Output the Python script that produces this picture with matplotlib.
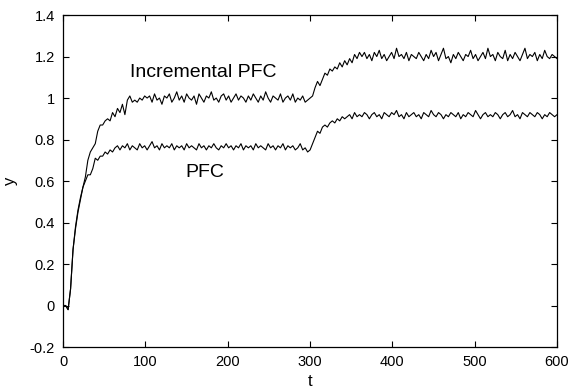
import numpy as np
import matplotlib.pyplot as plt

plt.rcParams['font.family'] = ['Liberation Sans', 'DejaVu Sans']

# ---- data: sampled every 3 time units, t = 0 ... 600 ----
incr_start = [0.00, 0.00, -0.02, 0.08, 0.27, 0.37, 0.45, 0.51, 0.57, 0.62,
              0.70, 0.74, 0.76, 0.78, 0.84, 0.87, 0.87, 0.89, 0.90, 0.89,
              0.93, 0.91, 0.95, 0.93, 0.97, 0.92, 0.99, 1.01, 0.98, 0.99,
              0.98, 1.00, 0.99, 1.01, 1.00]
incr_plateau1 = [1.01, 0.98, 1.02, 0.99, 1.00, 0.97, 1.01, 1.00, 1.02, 0.98,
                 1.00, 1.03, 0.99, 1.01, 0.98, 1.02, 1.00, 0.99, 1.01, 0.97,
                 1.02, 1.00, 0.98, 1.01, 1.00, 1.03, 0.99, 1.00, 0.98, 1.01,
                 1.02, 0.99, 1.01, 0.98, 1.00, 1.02, 0.99, 1.01, 1.00, 0.98,
                 1.01, 0.99, 1.02, 1.00, 0.98, 1.01, 0.99, 1.03, 1.00, 0.98,
                 1.01, 1.00, 0.99, 1.02, 0.98, 1.00, 1.01, 0.99, 1.02, 0.98,
                 1.00, 0.99, 1.01, 0.98, 0.99]
incr_step = [1.00, 1.01, 1.05, 1.08, 1.06, 1.09, 1.12, 1.11, 1.14, 1.13,
             1.15, 1.14, 1.17, 1.15, 1.18, 1.16, 1.19, 1.17, 1.21, 1.19, 1.22]
incr_plateau2 = [1.20, 1.22, 1.19, 1.21, 1.18, 1.22, 1.20, 1.23, 1.19, 1.21,
                 1.18, 1.20, 1.22, 1.19, 1.24, 1.20, 1.21, 1.19, 1.22, 1.18,
                 1.21, 1.20, 1.19, 1.22, 1.20, 1.18, 1.21, 1.19, 1.23, 1.20,
                 1.22, 1.18, 1.21, 1.24, 1.19, 1.20, 1.17, 1.21, 1.19, 1.22,
                 1.20, 1.18, 1.21, 1.20, 1.23, 1.19, 1.21, 1.18, 1.20, 1.22,
                 1.19, 1.24, 1.20, 1.21, 1.18, 1.22, 1.20, 1.19, 1.23, 1.18,
                 1.21, 1.19, 1.22, 1.20, 1.18, 1.21, 1.24, 1.19, 1.21, 1.20,
                 1.22, 1.18, 1.21, 1.19, 1.23, 1.20, 1.19, 1.21, 1.20, 1.19]

pfc_start = [0.00, 0.00, -0.02, 0.08, 0.27, 0.38, 0.46, 0.52, 0.57, 0.60,
             0.63, 0.63, 0.66, 0.71, 0.70, 0.72, 0.72, 0.74, 0.73, 0.75, 0.74]
pfc_plateau1 = [0.76, 0.77, 0.75, 0.77, 0.76, 0.78, 0.75, 0.77, 0.76, 0.75,
                0.78, 0.76, 0.77, 0.75, 0.77, 0.79, 0.76, 0.77, 0.75, 0.78,
                0.76, 0.77, 0.76, 0.78, 0.75, 0.77, 0.76, 0.77, 0.75, 0.78,
                0.76, 0.77, 0.76, 0.75, 0.78, 0.76, 0.77, 0.75, 0.77, 0.76,
                0.78, 0.76, 0.75, 0.77, 0.76, 0.78, 0.76, 0.77, 0.75, 0.77,
                0.76, 0.78, 0.75, 0.77, 0.76, 0.77, 0.75, 0.78, 0.76, 0.77,
                0.76, 0.75, 0.78, 0.76, 0.77, 0.75, 0.77, 0.76, 0.78, 0.75,
                0.77, 0.76, 0.77, 0.75, 0.76, 0.78, 0.75, 0.76, 0.74]
pfc_step = [0.75, 0.78, 0.81, 0.84, 0.83, 0.86, 0.87, 0.86, 0.88, 0.89,
            0.88, 0.90, 0.89, 0.91, 0.90]
pfc_plateau2 = [0.91, 0.92, 0.90, 0.93, 0.91, 0.92, 0.91, 0.93, 0.92, 0.90,
                0.92, 0.93, 0.91, 0.92, 0.90, 0.93, 0.92, 0.91, 0.93, 0.92,
                0.94, 0.91, 0.92, 0.90, 0.93, 0.91, 0.92, 0.93, 0.91, 0.92,
                0.90, 0.93, 0.92, 0.91, 0.94, 0.92, 0.91, 0.93, 0.92, 0.90,
                0.92, 0.91, 0.93, 0.92, 0.91, 0.93, 0.90, 0.92, 0.91, 0.93,
                0.92, 0.91, 0.94, 0.92, 0.90, 0.92, 0.93, 0.91, 0.92, 0.91,
                0.93, 0.92, 0.90, 0.92, 0.93, 0.91, 0.92, 0.94, 0.91, 0.92,
                0.90, 0.93, 0.92, 0.91, 0.93, 0.92, 0.91, 0.93, 0.92, 0.90,
                0.92, 0.91, 0.93, 0.92, 0.91, 0.92]

y_incr = np.array(incr_start + incr_plateau1 + incr_step + incr_plateau2)
y_pfc = np.array(pfc_start + pfc_plateau1 + pfc_step + pfc_plateau2)
t_incr = np.linspace(0, 600, len(y_incr))
t_pfc = np.linspace(0, 600, len(y_pfc))

fig = plt.figure(figsize=(5.69, 3.91), dpi=100)
ax = fig.add_axes([0.111, 0.1125, 0.868, 0.849])

ax.plot(t_incr, y_incr, color='black', lw=0.8)
ax.plot(t_pfc, y_pfc, color='black', lw=0.8)

ax.text(81, 1.125, 'Incremental PFC', fontsize=14, va='center', ha='left')
ax.text(148, 0.64, 'PFC', fontsize=14, va='center', ha='left')

ax.set_xlim(0, 600)
ax.set_ylim(-0.2, 1.4)
ax.set_xticks(np.arange(0, 601, 100))
ax.set_yticks(np.arange(-0.2, 1.41, 0.2))
ax.set_yticklabels(['-0.2', '0', '0.2', '0.4', '0.6', '0.8', '1', '1.2', '1.4'])
ax.tick_params(direction='in', top=True, right=True, length=4, width=0.8,
               labelsize=10.5, pad=6)
for s in ax.spines.values():
    s.set_linewidth(0.9)

ax.set_xlabel('t', fontsize=12, labelpad=3)
ax.set_ylabel('y', fontsize=12, labelpad=8)

fig.savefig('out.png', dpi=100)
